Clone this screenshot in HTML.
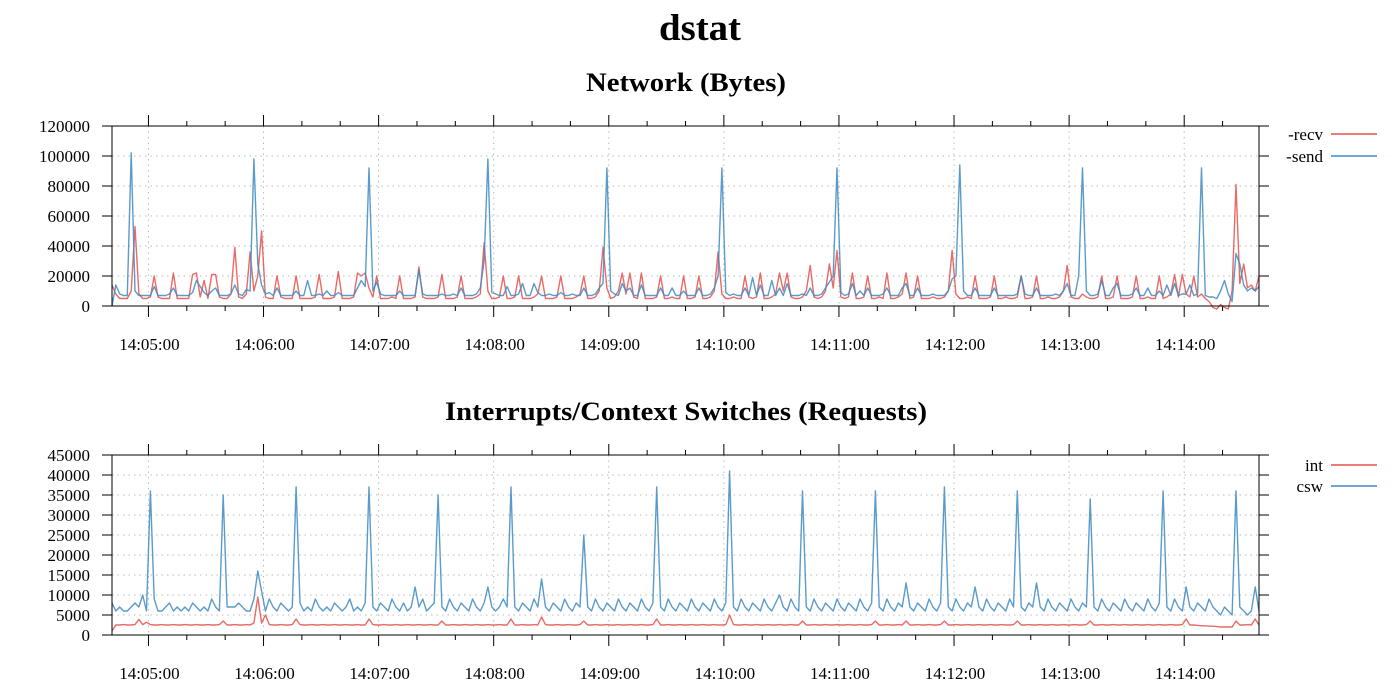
<!DOCTYPE html>
<html><head><meta charset="utf-8"><style>
html,body{margin:0;padding:0;background:#fff}
svg{display:block;font-family:"Liberation Serif","DejaVu Serif",serif}
</style></head><body>
<svg id="chart" width="1400" height="700" viewBox="0 0 1400 700">
<text x="659" y="40" textLength="82" lengthAdjust="spacingAndGlyphs" font-size="37" font-weight="bold">dstat</text>
<text x="586" y="91" textLength="200" lengthAdjust="spacingAndGlyphs" font-size="26" font-weight="bold">Network (Bytes)</text>
<text x="445" y="420" textLength="482" lengthAdjust="spacingAndGlyphs" font-size="26" font-weight="bold">Interrupts/Context Switches (Requests)</text>
<g id="legend1">
<text x="1323" y="140" text-anchor="end" font-size="17">-recv</text>
<line x1="1331" y1="134" x2="1377" y2="134" stroke="#e5504b" stroke-width="1.5"/>
<text x="1323" y="162" text-anchor="end" font-size="17">-send</text>
<line x1="1331" y1="156" x2="1377" y2="156" stroke="#3d8ac3" stroke-width="1.5"/>
</g>
<g id="legend2">
<text x="1323" y="471" text-anchor="end" font-size="17">int</text>
<line x1="1331" y1="465" x2="1377" y2="465" stroke="#e5504b" stroke-width="1.5"/>
<text x="1323" y="492" text-anchor="end" font-size="17">csw</text>
<line x1="1331" y1="486" x2="1377" y2="486" stroke="#3d8ac3" stroke-width="1.5"/>
</g>
</svg>
<script>
// time: first sample 14:04:41, one sample every 2 s
const startSec = 14*3600 + 4*60 + 41;
const stepSec = 2;
const xTickLabels = ["14:05:00","14:06:00","14:07:00","14:08:00","14:09:00","14:10:00","14:11:00","14:12:00","14:13:00","14:14:00"];
const netTicks = [0,20000,40000,60000,80000,100000,120000];
const intTicks = [0,5000,10000,15000,20000,25000,30000,35000,40000,45000];
// values in thousands
const recv = [14,8,5,5,5,10,53,8,5,5,6,20,6,5,5,5,22,5,5,5,
5,21,22,6,17,5,21,21,6,5,5,8,39,6,5,8,36,10,20,50,
6,5,5,20,6,5,5,5,20,5,5,5,5,6,21,5,5,5,6,23,
5,5,5,6,22,20,22,12,6,20,5,5,5,6,5,20,5,5,5,6,
26,6,5,5,5,6,21,5,5,5,6,20,5,5,5,6,8,42,10,5,
5,6,20,5,5,6,20,5,5,5,6,8,20,5,5,5,6,20,5,5,
5,6,8,20,5,5,6,10,39,12,5,6,10,22,8,22,6,5,22,5,
5,5,6,20,5,5,6,5,5,20,5,5,6,20,5,5,6,10,36,8,
5,5,6,5,5,20,6,5,6,22,5,5,6,8,22,10,22,6,5,5,
6,10,27,6,5,6,10,28,12,37,6,5,6,22,5,5,6,20,5,5,
6,5,22,5,5,6,8,22,5,6,20,5,5,5,6,5,5,6,10,37,
8,5,5,6,5,20,5,5,5,6,20,5,5,6,5,5,6,20,5,5,
6,20,5,5,6,5,5,6,10,27,6,5,5,8,6,5,5,6,20,5,
5,6,20,5,5,5,6,20,5,5,6,5,5,20,5,6,8,21,6,21,
8,6,20,6,8,5,3,-1,-2,1,-1,-2,10,81,15,28,12,14,10,20];
const send = [0,14,8,7,7,102,10,7,7,7,7,13,7,7,7,8,12,7,7,7,
7,9,17,13,9,7,10,12,7,7,7,8,14,8,7,11,10,98,28,14,
8,9,7,12,7,7,7,7,10,7,7,17,7,7,8,7,10,7,7,9,
7,7,7,7,12,17,13,92,10,16,8,7,7,7,7,10,7,7,7,7,
24,8,7,7,7,7,8,7,7,8,7,12,7,7,7,8,12,30,98,9,
8,7,7,13,7,7,8,15,7,7,15,9,7,7,8,7,7,9,7,7,
8,7,7,12,7,7,8,12,15,92,10,8,7,15,10,12,7,7,14,7,
7,7,7,12,7,7,12,7,7,10,7,7,7,12,7,7,8,12,20,92,
9,7,8,7,7,12,7,19,7,14,7,7,17,7,12,7,15,7,7,7,
8,7,12,7,7,8,12,16,20,92,9,7,8,15,7,10,7,12,7,7,
7,8,12,7,7,7,12,15,7,7,12,7,7,7,8,7,7,7,10,18,
20,94,10,7,7,12,7,7,7,7,12,7,7,7,7,7,8,20,8,7,
7,12,7,7,7,7,8,7,10,15,7,7,20,92,10,7,7,8,17,7,
7,12,15,7,7,7,8,12,7,7,12,7,7,10,7,14,7,15,7,8,
8,14,7,8,92,7,6,6,5,10,17,8,3,35,28,14,10,12,10,13];
const intr = [1,2.5,2.5,2.6,2.5,2.5,2.6,3.9,2.6,3.2,2.6,2.5,2.5,2.6,2.5,2.5,2.6,2.5,2.5,2.6,
2.5,2.5,2.6,2.5,2.5,2.6,2.5,2.5,2.6,3.5,2.5,2.5,2.6,2.5,2.5,2.6,2.5,3,9.5,3,
5,2.6,2.5,2.5,2.6,2.5,2.5,2.6,4,2.6,2.5,2.5,2.6,2.5,2.5,2.6,2.5,2.5,2.6,2.5,
2.5,2.6,2.5,2.5,2.6,2.5,2.5,4,2.6,2.5,2.5,2.6,2.5,2.5,2.6,2.5,2.5,2.6,2.5,2.5,
2.6,2.5,2.5,2.6,2.5,2.5,3.5,2.5,2.5,2.6,2.5,2.5,2.6,2.5,2.5,2.6,2.5,2.5,2.6,2.5,
2.5,2.6,2.5,2.5,4,2.5,2.5,2.6,2.5,2.5,2.6,2.5,4.5,2.6,2.5,2.5,2.6,2.5,2.5,2.6,
2.5,2.5,2.6,3.5,2.5,2.5,2.6,2.5,2.5,2.6,2.5,2.5,2.6,2.5,2.5,2.6,2.5,2.5,2.6,2.5,
2.5,2.6,4,2.5,2.5,2.6,2.5,2.5,2.6,2.5,2.5,2.6,2.5,2.5,2.6,2.5,2.5,2.6,2.5,2.5,
2.6,5,2.6,2.5,2.5,2.6,2.5,2.5,2.6,2.5,2.5,2.6,2.5,2.5,2.6,2.5,2.5,2.6,2.5,2.5,
3.5,2.5,2.5,2.6,2.5,2.5,2.6,2.5,2.5,2.6,2.5,2.5,2.6,2.5,2.5,2.6,2.5,2.5,2.6,3.5,
2.5,2.5,2.6,2.5,2.5,2.6,2.5,3.5,2.5,2.5,2.6,2.5,2.5,2.6,2.5,2.5,2.6,3.5,2.5,2.5,
2.6,2.5,2.5,2.6,2.5,2.5,2.6,2.5,2.5,2.6,2.5,2.5,2.6,2.5,2.5,2.6,3.5,2.5,2.5,2.6,
2.5,2.5,2.6,2.5,2.5,2.6,2.5,2.5,2.6,2.5,2.5,2.6,2.5,2.5,2.6,3.5,2.5,2.5,2.6,2.5,
2.5,2.6,2.5,2.5,2.6,2.5,2.5,2.6,2.5,2.5,2.6,2.5,2.5,2.6,2.5,2.5,2.6,2.5,2.5,2.6,
4,2.5,2.5,2.4,2.3,2.3,2.2,2.2,2.1,2,2,2,2,3.5,2.5,2.5,2.6,2.5,4,2.5];
const csw = [8,6,7,6,6,7,8,7,10,6,36,9,6,6,7,8,6,7,6,7,
6,8,7,6,7,6,9,7,6,35,7,7,7,8,7,6,6,9,16,11,
6,9,7,6,8,7,6,7,37,8,6,7,6,9,7,6,7,6,8,7,
6,7,9,6,7,6,8,37,7,6,8,7,6,9,7,6,8,6,7,12,
7,9,6,7,8,35,7,6,9,7,6,8,7,6,9,7,6,8,12,7,
6,7,9,7,37,7,6,8,7,6,9,7,14,7,6,8,7,6,9,7,
6,8,7,25,7,6,9,7,6,8,7,6,9,7,6,8,7,6,9,7,
6,8,37,7,6,9,7,6,8,7,6,9,7,6,8,7,6,9,7,6,
8,41,7,6,9,7,6,8,7,6,9,7,6,8,10,7,6,9,7,6,
36,7,6,9,7,6,8,7,6,9,7,6,8,7,6,9,7,6,8,36,
7,6,9,7,6,8,7,13,7,6,8,7,6,9,7,6,8,37,7,6,
9,7,6,8,7,12,7,6,9,7,6,8,7,6,9,7,36,7,6,8,
7,13,7,6,9,7,6,8,7,6,9,7,6,8,7,34,7,6,9,7,
6,8,7,6,9,7,6,8,7,6,9,7,6,8,36,7,6,9,7,6,
12,7,6,8,7,6,9,7,6,5,7,6,5,36,7,6,5,6,12,6];

const NS = "http://www.w3.org/2000/svg";
const svg = document.getElementById('chart');
const X0 = 112, X1 = 1259;
const T0 = startSec, T1 = startSec + 299*stepSec;
function xScale(t){ return X0 + (t - T0) / (T1 - T0) * (X1 - X0); }
function mk(tag, attrs, parent){
  const e = document.createElementNS(NS, tag);
  for (const k in attrs) e.setAttribute(k, attrs[k]);
  (parent || svg).appendChild(e);
  return e;
}
function parseT(s){ const p = s.split(':').map(Number); return p[0]*3600+p[1]*60+p[2]; }

function panel(name, top, bottom, yTicks, yMax, series){
  const g = mk('g', {});
  
  
  const yScale = v => bottom - v / yMax * (bottom - top);
  yTicks.forEach(v => {
    const y = yScale(v);
    if (v > 0 && v < yMax) {
      const gl = mk('line', {x1:X0, x2:X1, y1:y, y2:y, stroke:'#bbb', 'stroke-width':1, 'stroke-dasharray':'1.5,4'}, g);
      
      
    }
    mk('line', {x1:X0-10, x2:X0, y1:y, y2:y, stroke:'#000', 'stroke-width':1}, g);
    mk('line', {x1:X1, x2:X1+10, y1:y, y2:y, stroke:'#000', 'stroke-width':1}, g);
    const t = mk('text', {x:X0-22, y:y+6, 'text-anchor':'end', 'font-size':17}, g);
    t.textContent = v;
    
    
  });
  xTickLabels.forEach(lbl => {
    const x = xScale(parseT(lbl));
    const gl = mk('line', {x1:x, x2:x, y1:top, y2:bottom, stroke:'#bbb', 'stroke-width':1, 'stroke-dasharray':'1.5,4'}, g);
    
    
    mk('line', {x1:x, x2:x, y1:bottom, y2:bottom+11, stroke:'#000', 'stroke-width':1}, g);
    mk('line', {x1:x, x2:x, y1:top-11, y2:top, stroke:'#000', 'stroke-width':1}, g);
    const t = mk('text', {x:x+1, y:bottom+44, 'text-anchor':'middle', 'font-size':17}, g);
    t.textContent = lbl;
    
    
  });
  for (let s = Math.ceil(T0/20)*20; s <= T1; s += 20) {
    if (s % 60 === 0) continue;
    const x = xScale(s);
    mk('line', {x1:x, x2:x, y1:bottom, y2:bottom+5, stroke:'#000', 'stroke-width':1}, g);
    mk('line', {x1:x, x2:x, y1:top-5, y2:top, stroke:'#000', 'stroke-width':1}, g);
  }
  series.forEach(sr => {
    const pts = sr.values.map((v,i) => xScale(T0 + i*stepSec).toFixed(1) + ',' + yScale(v*1000).toFixed(1)).join(' ');
    const pl = mk('polyline', {points:pts, fill:'none', stroke:sr.color, 'stroke-width':1.4, 'stroke-opacity':0.85, 'stroke-linejoin':'round'}, g);
    
    
  });
  const fr = mk('rect', {x:X0, y:top, width:X1-X0, height:bottom-top, fill:'none', stroke:'#000', 'stroke-width':1}, g);
  
  
}
panel('network', 126, 306, netTicks, 120000, [
  {name:'recv', values:recv, color:'#e5504b'},
  {name:'send', values:send, color:'#3d8ac3'}
]);
panel('interrupts', 455, 635, intTicks, 45000, [
  {name:'int', values:intr, color:'#e5504b'},
  {name:'csw', values:csw, color:'#3d8ac3'}
]);
</script>
</body></html>
